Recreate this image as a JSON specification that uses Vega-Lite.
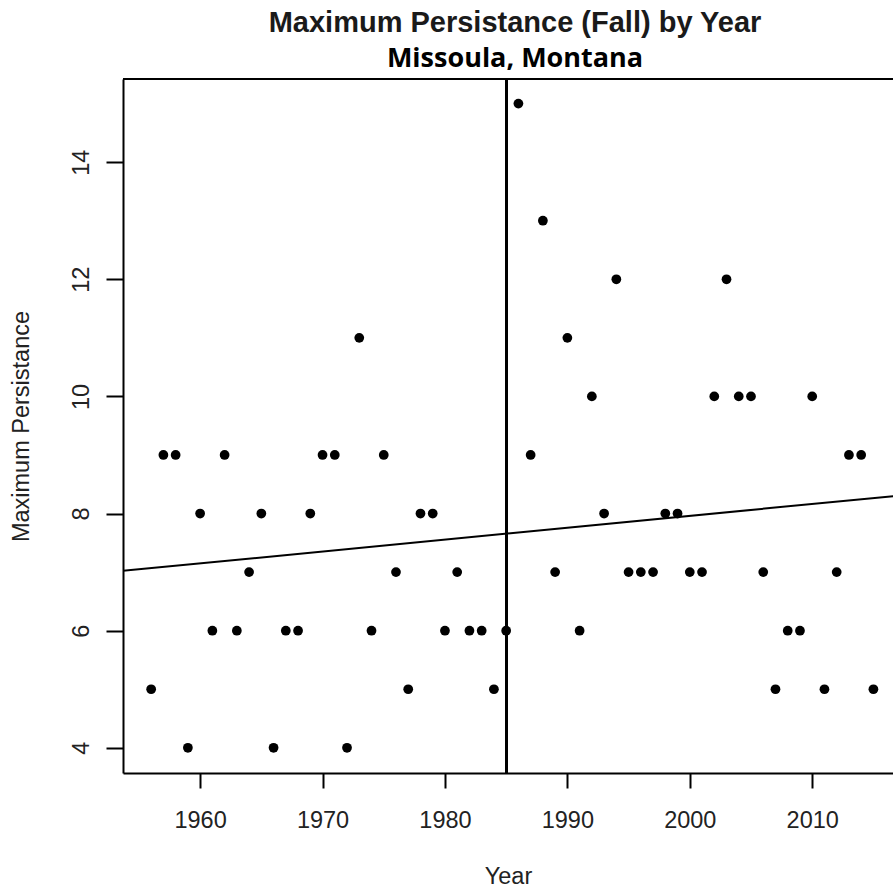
{
  "$schema": "https://vega.github.io/schema/vega-lite/v6.json",
  "width": 770,
  "height": 694,
  "autosize": {"type": "none"},
  "padding": {"left": 123, "top": 79, "right": 0, "bottom": 115},
  "background": "white",
  "config": {"view": {"stroke": null}},
  "title": {
    "text": "Maximum Persistance (Fall) by Year",
    "subtitle": "Missoula, Montana",
    "anchor": "middle",
    "dx": 7,
    "font": "Liberation Sans",
    "fontSize": 29,
    "fontWeight": "bold",
    "color": "#1a1a1a",
    "subtitleFont": "Open Sans",
    "subtitleFontSize": 27,
    "subtitleFontWeight": "bold",
    "subtitleColor": "#000000",
    "subtitlePadding": 8,
    "offset": 6
  },
  "data": {
    "values": [
      {"year": 1956, "persist": 5}, {"year": 1957, "persist": 9}, {"year": 1958, "persist": 9},
      {"year": 1959, "persist": 4}, {"year": 1960, "persist": 8}, {"year": 1961, "persist": 6},
      {"year": 1962, "persist": 9}, {"year": 1963, "persist": 6}, {"year": 1964, "persist": 7},
      {"year": 1965, "persist": 8}, {"year": 1966, "persist": 4}, {"year": 1967, "persist": 6},
      {"year": 1968, "persist": 6}, {"year": 1969, "persist": 8}, {"year": 1970, "persist": 9},
      {"year": 1971, "persist": 9}, {"year": 1972, "persist": 4}, {"year": 1973, "persist": 11},
      {"year": 1974, "persist": 6}, {"year": 1975, "persist": 9}, {"year": 1976, "persist": 7},
      {"year": 1977, "persist": 5}, {"year": 1978, "persist": 8}, {"year": 1979, "persist": 8},
      {"year": 1980, "persist": 6}, {"year": 1981, "persist": 7}, {"year": 1982, "persist": 6},
      {"year": 1983, "persist": 6}, {"year": 1984, "persist": 5}, {"year": 1985, "persist": 6},
      {"year": 1986, "persist": 15}, {"year": 1987, "persist": 9}, {"year": 1988, "persist": 13},
      {"year": 1989, "persist": 7}, {"year": 1990, "persist": 11}, {"year": 1991, "persist": 6},
      {"year": 1992, "persist": 10}, {"year": 1993, "persist": 8}, {"year": 1994, "persist": 12},
      {"year": 1995, "persist": 7}, {"year": 1996, "persist": 7}, {"year": 1997, "persist": 7},
      {"year": 1998, "persist": 8}, {"year": 1999, "persist": 8}, {"year": 2000, "persist": 7},
      {"year": 2001, "persist": 7}, {"year": 2002, "persist": 10}, {"year": 2003, "persist": 12},
      {"year": 2004, "persist": 10}, {"year": 2005, "persist": 10}, {"year": 2006, "persist": 7},
      {"year": 2007, "persist": 5}, {"year": 2008, "persist": 6}, {"year": 2009, "persist": 6},
      {"year": 2010, "persist": 10}, {"year": 2011, "persist": 5}, {"year": 2012, "persist": 7},
      {"year": 2013, "persist": 9}, {"year": 2014, "persist": 9}, {"year": 2015, "persist": 5}
    ]
  },
  "layer": [
    {
      "mark": {"type": "point", "filled": true, "shape": "circle", "size": 95, "color": "#000000", "opacity": 1},
      "encoding": {
        "x": {
          "field": "year",
          "type": "quantitative",
          "scale": {"domain": [1953.7, 2016.6], "nice": false, "zero": false},
          "axis": {
            "values": [1960, 1970, 1980, 1990, 2000, 2010],
            "format": "d",
            "grid": false,
            "domainColor": "#000000",
            "domainWidth": 2,
            "tickColor": "#000000",
            "tickWidth": 2,
            "tickSize": 15,
            "labelFont": "Liberation Sans",
            "labelFontSize": 23.5,
            "labelColor": "#222222",
            "labelPadding": 20,
            "labelFlush": false,
            "labelOverlap": false,
            "title": "Year",
            "titleFont": "Liberation Sans",
            "titleFontSize": 23.5,
            "titleFontWeight": "normal",
            "titleColor": "#222222",
            "titlePadding": 33
          }
        },
        "y": {
          "field": "persist",
          "type": "quantitative",
          "scale": {"domain": [3.57, 15.42], "nice": false, "zero": false},
          "axis": {
            "values": [4, 6, 8, 10, 12, 14],
            "format": "d",
            "grid": false,
            "domainColor": "#000000",
            "domainWidth": 2,
            "tickColor": "#000000",
            "tickWidth": 2,
            "tickSize": 17,
            "labelFont": "Liberation Sans",
            "labelFontSize": 23.5,
            "labelColor": "#222222",
            "labelAngle": -90,
            "labelAlign": "center",
            "labelBaseline": "alphabetic",
            "labelPadding": 18,
            "labelOverlap": false,
            "title": "Maximum Persistance",
            "titleFont": "Liberation Sans",
            "titleFontSize": 23.5,
            "titleFontWeight": "normal",
            "titleColor": "#222222",
            "titlePadding": 36
          }
        }
      }
    },
    {
      "transform": [{"regression": "persist", "on": "year", "extent": [1953.6, 2017.4]}],
      "mark": {"type": "line", "clip": true, "color": "#000000", "strokeWidth": 2},
      "encoding": {
        "x": {"field": "year", "type": "quantitative"},
        "y": {"field": "persist", "type": "quantitative"}
      }
    },
    {
      "mark": {"type": "rule", "color": "#000000", "strokeWidth": 2},
      "encoding": {"x": {"datum": 1985}}
    },
    {
      "mark": {"type": "rule", "color": "#000000", "strokeWidth": 2},
      "encoding": {"y": {"datum": 15.42}}
    }
  ]
}
